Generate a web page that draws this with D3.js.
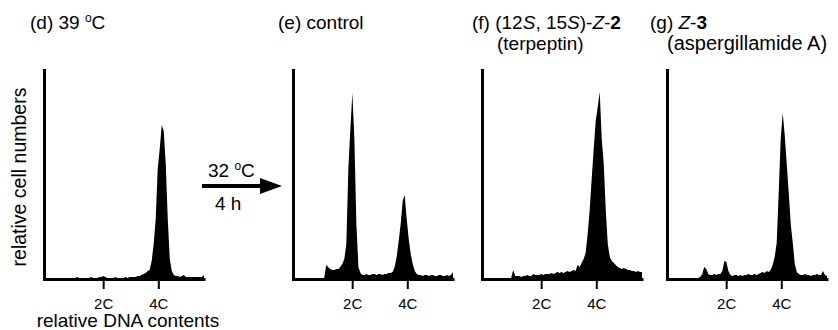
<!DOCTYPE html>
<html>
<head>
<meta charset="utf-8">
<script src="https://cdn.jsdelivr.net/npm/d3@7"></script>
<style>
  body { margin: 0; background: #fff; }
  svg { font-family: "Liberation Sans", Arial, sans-serif; }
</style>
</head>
<body>
<svg id="chart" width="838" height="330"></svg>
<script>
// DNA content channels (80 bins per histogram), 2C / 4C tick positions
const tickChannels = [29.4, 56.8];
const tickLabels = ["2C", "4C"];

// relative cell numbers per bin
const histD = [0,1,1,1,1,1,1,1,1,1,1,
  1,1,1,1,1,2,1,1,1,1,1,1,2,1,1,1,2,
  2,3,2,
  1,1,1,1,2,1,1,1,1,2,1,2,2,2,2,3,3,
  4,5,6,8,9,18,35,60,110,130,154,148,115,60,20,8,4,3,3,2,3,4,2,2,2,2,2,2,2,2,2,4];

const histE = [0,0,1,1,1,1,1,1,1,1,1,1,1,1,1,1,
  14,12,10,9,9,10,10,12,15,20,35,110,150,186,140,55,12,6,
  4,4,5,4,4,5,5,4,5,5,4,5,5,6,6,
  7,12,22,38,55,78,84,60,40,25,15,8,5,
  4,4,3,4,4,3,4,4,3,3,4,4,3,3,4,3,4,7];

const histF = [0,0,1,1,1,1,1,1,1,1,1,1,1,1,
  1,9,3,
  3,3,2,3,3,4,3,3,5,4,4,4,5,4,5,5,5,6,5,6,7,6,
  7,6,7,8,7,8,9,8,
  14,12,16,20,26,45,69,100,130,158,172,187,140,115,69,35,22,18,16,14,12,
  11,10,11,10,9,9,8,8,7,8,7,7];

const histG = [0,0,1,1,1,1,1,1,1,1,1,1,1,1,1,1,2,
  5,12,10,5,
  4,4,5,4,5,5,
  8,18,17,8,
  4,3,4,4,3,4,3,4,4,5,4,4,5,4,5,6,
  7,6,8,7,9,14,22,36,86,140,166,144,115,86,55,36,15,7,5,
  4,4,5,4,4,3,4,4,5,4,4,8,4,3];

const panels = [
  { left: 44, hist: histD },
  { left: 293, hist: histE },
  { left: 482, hist: histF },
  { left: 667, hist: histG }
];

const svg = d3.select("#chart");
const font = '"Liberation Sans", Arial, sans-serif';
const plotTop = 70, plotBottom = 279, plotWidth = 161;

const y = d3.scaleLinear().domain([0, 209]).range([plotBottom, plotTop]);

panels.forEach(p => {
  const x = d3.scaleLinear().domain([0, p.hist.length]).range([p.left, p.left + plotWidth]);

  const area = d3.area()
    .x((d, i) => x(i + 0.5))
    .y0(y(0))
    .y1(d => y(d));

  svg.append("path")
    .datum(p.hist)
    .attr("fill", "#000")
    .attr("d", area);

  const xAxis = d3.axisBottom(x)
    .tickValues(tickChannels)
    .tickFormat((d, i) => tickLabels[i])
    .tickSize(10)
    .tickSizeOuter(0)
    .tickPadding(9);

  const gx = svg.append("g")
    .attr("transform", `translate(0,${plotBottom})`)
    .call(xAxis)
    .attr("font-family", font)
    .attr("font-size", 15);
  gx.select(".domain").attr("stroke-width", 3);
  gx.selectAll(".tick line").attr("stroke-width", 2);
  gx.selectAll(".tick text").attr("fill", "#000");

  const gy = svg.append("g")
    .attr("transform", `translate(${p.left},0)`)
    .call(d3.axisLeft(y).tickValues([]).tickSizeOuter(0));
  gy.select(".domain").attr("stroke-width", 3).attr("stroke-linecap", "square");
});

/* ========== TEXTS ========== */

function label(xp, yp, parts, size = 19) {
  const t = svg.append("text").attr("x", xp).attr("y", yp).attr("font-size", size);
  parts.forEach(s => {
    const ts = t.append("tspan").text(s.t);
    if (s.i) ts.attr("font-style", "italic");
    if (s.b) ts.attr("font-weight", "bold");
    if (s.sup) ts.attr("font-size", 12).attr("dy", -7);
    if (s.down) ts.attr("dy", 7);
  });
  return t;
}

label(30, 29, [{ t: "(d) 39 " }, { t: "o", sup: true }, { t: "C", down: true }]);
label(278, 29, [{ t: "(e) control" }]);
label(472, 29, [{ t: "(f) (12" }, { t: "S", i: true }, { t: ", 15" }, { t: "S", i: true },
  { t: ")-" }, { t: "Z", i: true }, { t: "-" }, { t: "2", b: true }]);
label(497, 50, [{ t: "(terpeptin)" }]);
label(650, 29, [{ t: "(g) " }, { t: "Z", i: true }, { t: "-" }, { t: "3", b: true }]);
label(667, 50, [{ t: "(aspergillamide A)" }], 20);

svg.append("text")
  .attr("transform", "translate(26,177) rotate(-90)")
  .attr("text-anchor", "middle")
  .attr("font-size", 19.5)
  .text("relative cell numbers");

svg.append("text")
  .attr("x", 128).attr("y", 327)
  .attr("text-anchor", "middle")
  .attr("font-size", 19)
  .text("relative DNA contents");

// arrow between (d) and (e)
svg.append("line")
  .attr("x1", 202).attr("x2", 262).attr("y1", 186).attr("y2", 186)
  .attr("stroke", "#000").attr("stroke-width", 4);
svg.append("path")
  .attr("d", "M260,178L282,186L260,194Z")
  .attr("fill", "#000");
label(208, 177, [{ t: "32 " }, { t: "o", sup: true }, { t: "C", down: true }]);
label(215, 210, [{ t: "4 h" }]);
</script>
</body>
</html>
